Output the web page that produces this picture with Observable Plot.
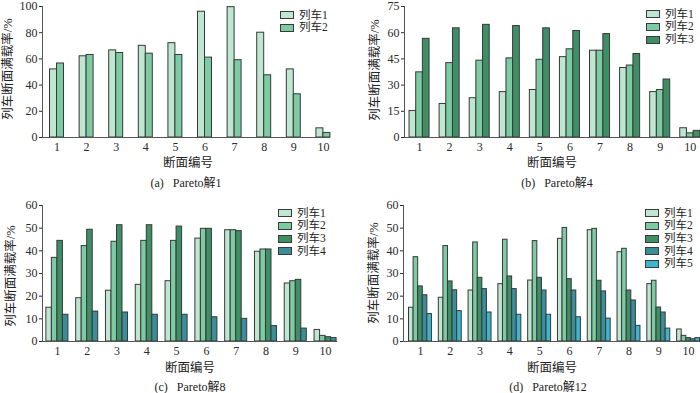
<!DOCTYPE html>
<html><head><meta charset="utf-8">
<script src="https://cdn.jsdelivr.net/npm/d3@7"></script>
<script src="https://cdn.jsdelivr.net/npm/@observablehq/plot@0.6"></script>
<style>
body{margin:0;background:#fff;}
#root{position:relative;width:700px;height:393px;overflow:hidden;font-family:"Liberation Serif","Noto Sans CJK SC",serif;color:#222;}
.panel{position:absolute;}
.lbl{position:absolute;white-space:nowrap;font-size:12px;line-height:1;transform:translate(-50%,-50%);}
.ytitle{font-size:12.5px;transform:translate(-50%,-50%) rotate(-90deg);}
.xtitle{font-size:12.5px;}
.legend{position:absolute;font-size:11.5px;line-height:1;}
.legend .row{display:flex;align-items:center;height:12.7px;}
.sw{box-sizing:border-box;width:14px;height:8px;border:1px solid #3a3a3a;margin-right:5px;}
</style></head>
<body><div id="root"></div>
<script>
// ---- data ----
const sections = [1,2,3,4,5,6,7,8,9,10];
const trainNames = ["列车1","列车2","列车3","列车4","列车5"];
const trainColors = ["#bfe6d0","#7ccba2","#3e8f66","#3a8d9a","#3cb6cb"];
const yTitle = "列车断面满载率/%";
const xTitle = "断面编号";

// (a) Pareto解1
const p1_train1 = [52, 62, 66.5, 70, 72, 96, 99.5, 80, 52, 7];
const p1_train2 = [56.5, 63, 64.5, 64, 63, 61, 59, 47.5, 33, 3.5];
// (b) Pareto解4
const p4_train1 = [15.2, 19.2, 22.5, 26, 27.2, 46, 49.7, 39.8, 26, 5.3];
const p4_train2 = [37.3, 42.6, 44, 45.3, 44.5, 50.5, 49.7, 41.2, 27.2, 2.4];
const p4_train3 = [56.5, 62.5, 64.5, 63.8, 62.5, 61, 59.2, 47.8, 33.2, 3.8];
// (c) Pareto解8
const p8_train1 = [14.9, 19.1, 22.4, 25, 26.6, 45.4, 49.1, 39.6, 25.6, 5.1];
const p8_train2 = [36.9, 42.1, 44, 44.4, 44.4, 49.7, 49.1, 40.6, 26.6, 2.5];
const p8_train3 = [44.4, 49.3, 51.3, 51.3, 50.7, 49.7, 48.7, 40.6, 27.2, 1.9];
const p8_train4 = [11.8, 13.2, 12.8, 11.8, 11.8, 10.7, 10, 6.8, 5.7, 1.5];
// (d) Pareto解12
const p12_train1 = [14.9, 19.3, 22.5, 25.3, 26.9, 45.3, 49.1, 39.4, 25.3, 5.3];
const p12_train2 = [37.2, 42.1, 43.7, 44.9, 44.3, 50.1, 49.7, 40.9, 26.8, 2.5];
const p12_train3 = [24.3, 26.5, 28.1, 28.7, 28.1, 27.5, 26.8, 22.5, 15, 1.5];
const p12_train4 = [20.4, 22.6, 23.1, 23.1, 22.5, 22.5, 22.1, 18.1, 12.8, 1];
const p12_train5 = [12.1, 13.4, 12.8, 11.8, 11.8, 10.7, 10.1, 6.9, 5.7, 1.5];

const captions = ["(a)\u2002 Pareto解1","(b)\u2002 Pareto解4","(c)\u2002 Pareto解8","(d)\u2002 Pareto解12"];
const yTicksA = [0,20,40,60,80,100];
const yTicksB = [0,15,30,45,60,75];
const yTicksC = [0,10,20,30,40,50,60];

// ---- layout (positions/styles only) ----
const panels = [
  {series:[p1_train1,p1_train2], yMax:100, yTicks:yTicksA, left:0, top:0, mL:42, mR:20, mT:6, mB:23, padL:0.49, padR:0.24, w:0.236,
   yt:[8,69], xt:[188,163], cap:[186,182.5], leg:[280,9]},
  {series:[p4_train1,p4_train2,p4_train3], yMax:75, yTicks:yTicksB, left:350, top:0, mL:54, mR:0, mT:6, mB:23, padL:0.5, padR:0.34, w:0.222,
   yt:[375,70], xt:[552,163], cap:[557,182.5], leg:[646,8]},
  {series:[p8_train1,p8_train2,p8_train3,p8_train4], yMax:60, yTicks:yTicksC, left:0, top:196, mL:42, mR:13, mT:9, mB:15, padL:0.5, padR:0.4, w:0.185,
   yt:[11,276], xt:[190,367.5], cap:[190,386.5], leg:[278,207]},
  {series:[p12_train1,p12_train2,p12_train3,p12_train4,p12_train5], yMax:60, yTicks:yTicksC, left:350, top:196, mL:53, mR:0, mT:9, mB:15, padL:0.57, padR:0.4, w:0.154,
   yt:[374,273], xt:[552,367.5], cap:[548,386.5], leg:[645,207]}
];

const root = document.getElementById("root");
const color = {domain: trainNames, range: trainColors};

panels.forEach((p, pi) => {
  const n = p.series.length;
  const data = [];
  p.series.forEach((vals, k) => vals.forEach((v, i) => data.push({sec: sections[i], k, train: trainNames[k], value: v})));
  const x0 = sections[0] - p.padL, x1 = sections[sections.length-1] + p.padR;
  const chart = Plot.plot({
    width: 350, height: 160,
    marginLeft: p.mL, marginRight: p.mR, marginTop: p.mT, marginBottom: p.mB,
    style: {fontFamily: '"Liberation Serif","Noto Sans CJK SC",serif', fontSize: "12px", color: "#2a2a2a", background: "transparent", overflow: "visible"},
    x: {domain: [x0, x1], ticks: sections, tickFormat: d => String(d), tickSize: 0, tickPadding: 5, label: null},
    y: {domain: [0, p.yMax], ticks: p.yTicks, tickSize: 3, tickPadding: 2, label: null},
    color,
    marks: [
      Plot.rectY(data, {
        x1: d => d.sec - n * p.w / 2 + d.k * p.w,
        x2: d => d.sec - n * p.w / 2 + (d.k + 1) * p.w,
        y1: 0, y2: "value", fill: "train", stroke: "#383838", strokeWidth: 1
      }),
      Plot.ruleY([0], {stroke: "#555"}),
      Plot.ruleX([x0], {stroke: "#555"})
    ]
  });
  const wrap = document.createElement("div");
  wrap.className = "panel";
  wrap.style.left = p.left + "px"; wrap.style.top = p.top + "px";
  wrap.appendChild(chart);
  root.appendChild(wrap);

  const mk = (text, pos, cls) => {
    const d = document.createElement("div");
    d.className = "lbl" + (cls ? " " + cls : "");
    d.textContent = text;
    d.style.left = pos[0] + "px"; d.style.top = pos[1] + "px";
    root.appendChild(d);
  };
  mk(yTitle, p.yt, "ytitle");
  mk(xTitle, p.xt, "xtitle");
  mk(captions[pi], p.cap);

  const leg = document.createElement("div");
  leg.className = "legend";
  leg.style.left = p.leg[0] + "px"; leg.style.top = p.leg[1] + "px";
  for (let k = 0; k < n; k++) {
    const row = document.createElement("div"); row.className = "row";
    const sw = document.createElement("div"); sw.className = "sw"; sw.style.background = trainColors[k];
    const t = document.createElement("span"); t.textContent = trainNames[k];
    row.appendChild(sw); row.appendChild(t); leg.appendChild(row);
  }
  root.appendChild(leg);
});
</script>
</body></html>
